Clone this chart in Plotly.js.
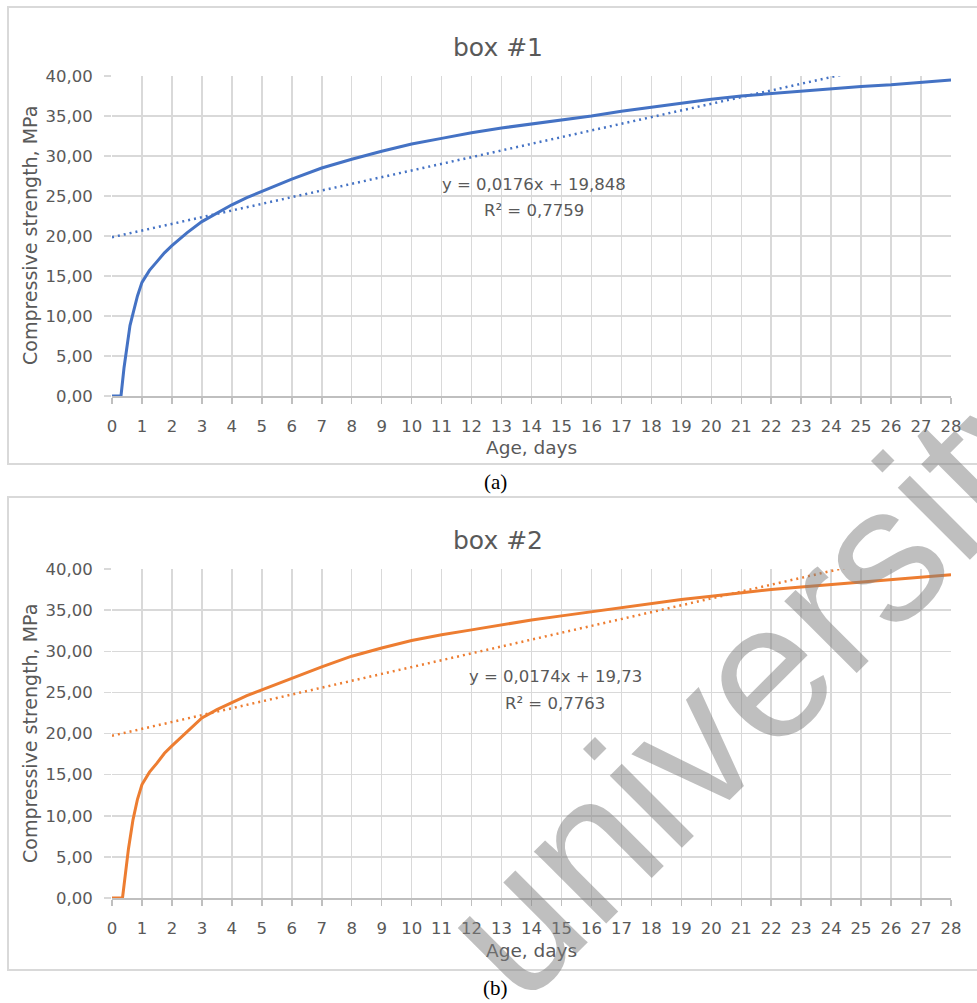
<!DOCTYPE html>
<html>
<head>
<meta charset="utf-8">
<script src="https://cdn.plot.ly/plotly-3.0.1.min.js"></script>
<style>html,body{margin:0;padding:0;background:#fff;}#chart{width:977px;height:1003px;}</style>
</head>
<body>
<div id="chart"></div>
<script>
// ---- Data ----
const xTicks = [0,1,2,3,4,5,6,7,8,9,10,11,12,13,14,15,16,17,18,19,20,21,22,23,24,25,26,27,28];
const yTicks = [0,5,10,15,20,25,30,35,40];

// box #1 (age in days, compressive strength MPa)
const days1 = [0,0.3,0.4,0.5,0.6,0.7,0.85,1.0,1.25,1.5,1.75,2.0,2.5,3.0,3.5,4,4.5,5,6,7,8,9,10,11,12,13,14,15,16,17,18,19,20,21,22,23,24,25,26,27,28];
const strength1 = [0,0,3.5,6.5,8.8,10.3,12.5,14.2,15.7,16.8,17.9,18.8,20.4,21.8,22.9,23.9,24.8,25.6,27.1,28.5,29.6,30.6,31.5,32.2,32.9,33.5,34.0,34.5,35.0,35.6,36.1,36.6,37.1,37.5,37.8,38.1,38.4,38.7,38.9,39.2,39.5];
const trendX1 = [0, 28];
const trendY1 = [19.85, 43.2];
const eq1 = "y = 0,0176x + 19,848";
const r2_1 = "R² = 0,7759";

// box #2
const days2 = [0,0.35,0.45,0.55,0.7,0.85,1.0,1.25,1.5,1.75,2.0,2.5,3.0,3.5,4,4.5,5,6,7,8,9,10,11,12,13,14,15,16,17,18,19,20,21,22,23,24,25,26,27,28];
const strength2 = [0,0,3.0,6.0,9.5,12.0,13.8,15.3,16.4,17.6,18.5,20.2,21.9,22.9,23.8,24.6,25.3,26.7,28.1,29.4,30.4,31.3,32.0,32.6,33.2,33.8,34.3,34.8,35.3,35.8,36.3,36.7,37.1,37.5,37.8,38.1,38.4,38.7,39.0,39.3];
const trendX2 = [0, 28];
const trendY2 = [19.73, 43.1];
const eq2 = "y = 0,0174x + 19,73";
const r2_2 = "R² = 0,7763";

const titles = ["box #1", "box #2"];
const captions = ["(a)", "(b)"];
const xTitle = "Age, days";
const yTitle = "Compressive strength, MPa";
const watermark = "university";

// ---- Layout helpers ----
const W = 977, H = 1003;
const px = x => x / W;
const py = y => 1 - y / H;

const blue = "#4472C4", orange = "#ED7D31";
const FONT = "DejaVu Sans, Open Sans, sans-serif";
const txt = "#595959";
const grid = "#d9d9d9";

const traces = [
  {x: days1, y: strength1, xaxis: "x", yaxis: "y", mode: "lines", line: {color: blue, width: 3}, hoverinfo: "skip"},
  {x: trendX1, y: trendY1, xaxis: "x", yaxis: "y", mode: "lines", line: {color: blue, width: 2.5, dash: "2px,4px"}, hoverinfo: "skip"},
  {x: days2, y: strength2, xaxis: "x2", yaxis: "y2", mode: "lines", line: {color: orange, width: 3}, hoverinfo: "skip"},
  {x: trendX2, y: trendY2, xaxis: "x2", yaxis: "y2", mode: "lines", line: {color: orange, width: 2.5, dash: "2px,4px"}, hoverinfo: "skip"}
];

function xAxis(anchor, dom) {
  return {
    domain: dom, anchor: anchor, range: [0, 28], tickmode: "array", tickvals: xTicks,
    ticktext: xTicks.map(String),
    showgrid: true, gridcolor: grid, gridwidth: 1.5, zeroline: false,
    showline: true, linecolor: "#bfbfbf", linewidth: 2,
    ticks: "outside", ticklen: 6, tickcolor: "#bfbfbf", tickwidth: 1.5,
    ticklabelstandoff: 8,
    tickfont: {family: FONT, size: 16.5, color: txt}, fixedrange: true
  };
}
function yAxis(anchor, dom) {
  return {
    domain: dom, anchor: anchor, range: [0, 40], tickmode: "array", tickvals: yTicks,
    tickformat: ".2f",
    showgrid: true, gridcolor: grid, gridwidth: 1.5, zeroline: false, showline: false,
    ticks: "outside", ticklen: 7, tickcolor: grid, tickwidth: 1.5,
    ticklabelstandoff: 8,
    tickfont: {family: FONT, size: 16.5, color: txt}, fixedrange: true
  };
}

const xDom = [px(112), px(951)];
const layout = {
  width: W, height: H,
  margin: {l: 0, r: 0, t: 0, b: 0},
  paper_bgcolor: "#fff", plot_bgcolor: "#fff",
  showlegend: false,
  separators: ", ",
  xaxis: xAxis("y", xDom),
  yaxis: yAxis("x", [py(396), py(76)]),
  xaxis2: xAxis("y2", xDom),
  yaxis2: yAxis("x2", [py(898), py(569)]),
  shapes: [
    {type: "rect", xref: "paper", yref: "paper", x0: px(8), x1: 1.05, y0: py(464), y1: py(7), line: {color: grid, width: 2}},
    {type: "rect", xref: "paper", yref: "paper", x0: px(8), x1: 1.05, y0: py(970), y1: py(497), line: {color: grid, width: 2}}
  ],
  annotations: []
};

const A = layout.annotations;
function ann(text, x, y, size, opts) {
  A.push(Object.assign({text: text, xref: "paper", yref: "paper", x: px(x), y: py(y),
    xanchor: "center", yanchor: "middle", showarrow: false,
    font: {family: FONT, size: size, color: txt}}, opts || {}));
}
// titles
ann(titles[0], 498, 47, 25);
ann(titles[1], 498, 540, 25);
// axis titles
ann(xTitle, 531, 447, 18.5);
ann(xTitle, 531, 950, 18.5);
ann(yTitle, 30, 236, 19, {textangle: -90});
ann(yTitle, 30, 734, 19, {textangle: -90});
// trend equations
ann(eq1, 534, 185, 16.5);
ann(r2_1, 534, 211, 16.5);
ann(eq2, 555, 676, 16.5);
ann(r2_2, 555, 703, 16.5);
// captions
ann(captions[0], 496, 482, 21, {font: {family: "Liberation Serif, Times New Roman, serif", size: 21, color: "#000"}});
ann(captions[1], 496, 988, 21, {font: {family: "Liberation Serif, Times New Roman, serif", size: 21, color: "#000"}});
// watermark (cut off at the right/bottom edges, as in the reference)
ann(watermark, 762, 673, 193, {textangle: -45, font: {family: "Liberation Sans, Arial, sans-serif", size: 193, color: "rgba(128,128,128,0.5)"}});

Plotly.newPlot("chart", traces, layout, {displayModeBar: false, staticPlot: true});
</script>
</body>
</html>
